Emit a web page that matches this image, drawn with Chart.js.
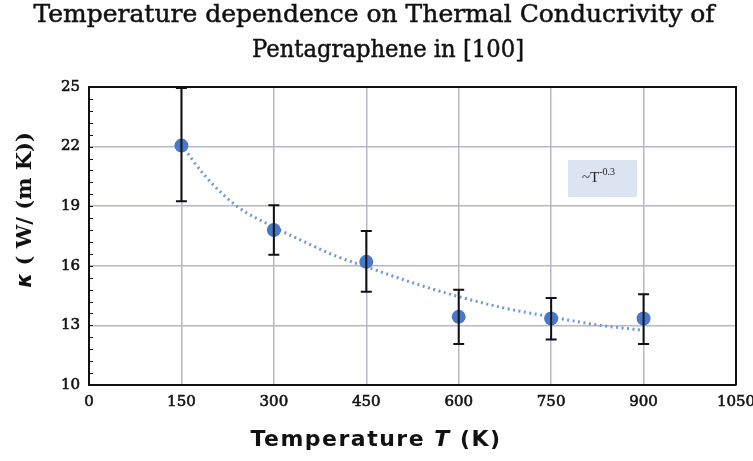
<!DOCTYPE html>
<html><head><meta charset="utf-8">
<script src="https://cdn.jsdelivr.net/npm/chart.js@4.4.1/dist/chart.umd.min.js"></script>
<style>html,body{margin:0;padding:0;background:#fff;}canvas{display:block;}</style>
</head><body>
<canvas id="c" width="753" height="461"></canvas>
<script>
// Data
const temperatures = [150, 300, 450, 600, 750, 900];
const kappa = [22.05, 17.8, 16.2, 13.43, 13.35, 13.35];
const kappaLow = [19.25, 16.55, 14.7, 12.07, 12.29, 12.07];
const kappaHigh = [24.95, 19.05, 17.75, 14.8, 14.38, 14.57];
const trendT = [150, 185, 240, 300, 350, 400, 450, 535, 600, 670, 750, 830, 900];
const trendK = [22.1, 20.65, 19.0, 17.95, 17.2, 16.5, 15.95, 15.05, 14.45, 13.9, 13.43, 13.0, 12.75];
const xTicks = [0, 150, 300, 450, 600, 750, 900, 1050];
const yTicks = [10, 13, 16, 19, 22, 25];

const blue = '#4a78c8';
const gridCol = '#b7b7c6';

function strokeFill(ctx, text, x, y, maxW) {
  if (maxW) { ctx.fillText(text, x, y, maxW); ctx.strokeText(text, x, y, maxW); }
  else { ctx.fillText(text, x, y); ctx.strokeText(text, x, y); }
}

const overlay = {
  id: 'overlay',
  afterDatasetsDraw(chart) {
    const ctx = chart.ctx, xs = chart.scales.x, ys = chart.scales.y;
    ctx.save();
    ctx.strokeStyle = '#111';
    ctx.lineWidth = 2;
    temperatures.forEach((t, i) => {
      const x = xs.getPixelForValue(t);
      const y1 = ys.getPixelForValue(kappaLow[i]);
      const y2 = ys.getPixelForValue(kappaHigh[i]);
      ctx.beginPath();
      ctx.moveTo(x, y1); ctx.lineTo(x, y2);
      ctx.moveTo(x - 5.5, y1); ctx.lineTo(x + 5.5, y1);
      ctx.moveTo(x - 5.5, y2); ctx.lineTo(x + 5.5, y2);
      ctx.stroke();
    });
    ctx.restore();
  },
  afterDraw(chart) {
    const ctx = chart.ctx, ys = chart.scales.y, a = chart.chartArea;
    ctx.save();
    ctx.strokeStyle = '#111';
    ctx.lineWidth = 2;
    ctx.beginPath();
    ctx.moveTo(a.left, a.top); ctx.lineTo(a.right, a.top); ctx.lineTo(a.right, a.bottom);
    ctx.stroke();
    ctx.lineWidth = 1;
    for (let v = 10; v <= 25.001; v += 0.6) {
      const y = Math.round(ys.getPixelForValue(v)) + 0.5;
      ctx.beginPath(); ctx.moveTo(a.left, y); ctx.lineTo(a.left + 4, y); ctx.stroke();
    }
    // annotation box
    ctx.fillStyle = '#dce4f1';
    ctx.fillRect(568, 160, 69, 37);
    ctx.fillStyle = '#222';
    ctx.textBaseline = 'alphabetic';
    ctx.textAlign = 'left';
    ctx.font = '15px "Liberation Serif"';
    ctx.fillText('~T', 582, 182);
    const w = ctx.measureText('~T').width;
    ctx.font = '10px "Liberation Serif"';
    ctx.fillText('-0.3', 582 + w, 175);
    // title
    ctx.fillStyle = '#111';
    ctx.strokeStyle = '#111';
    ctx.lineWidth = 0.5;
    ctx.textAlign = 'center';
    ctx.textBaseline = 'middle';
    ctx.font = '25px "DejaVu Serif"';
    strokeFill(ctx, 'Temperature dependence on Thermal Conducrivity of', 374, 15, 681);
    strokeFill(ctx, 'Pentagraphene in [100]', 388, 50, 272);
    // x title
    ctx.textAlign = 'left';
    ctx.letterSpacing = '1.5px';
    const fN = 'bold 22px "DejaVu Sans"', fI = 'italic bold 22px "DejaVu Sans"';
    const p1 = 'Temperature ', p2 = 'T', p3 = ' (K)';
    ctx.font = fN;
    const w1 = ctx.measureText(p1).width, w3 = ctx.measureText(p3).width;
    ctx.font = fI;
    const w2 = ctx.measureText(p2).width;
    let sx = 376 - (w1 + w2 + w3) / 2;
    ctx.font = fN; ctx.fillText(p1, sx, 440);
    ctx.font = fI; ctx.fillText(p2, sx + w1, 440);
    ctx.font = fN; ctx.fillText(p3, sx + w1 + w2, 440);
    ctx.letterSpacing = '0px';
    // y title
    ctx.translate(26, 210);
    ctx.rotate(-Math.PI / 2);
    const gI = 'italic bold 21px "DejaVu Sans"', gN = 'bold 21px "DejaVu Serif"';
    const q1 = 'κ', q2 = ' ( W/ (m K))';
    ctx.font = gI;
    const wq1 = ctx.measureText(q1).width;
    ctx.font = gN;
    const wq2 = ctx.measureText(q2).width;
    let sy = -(wq1 + wq2) / 2;
    ctx.font = gI; ctx.fillText(q1, sy, 0);
    ctx.font = gN; ctx.fillText(q2, sy + wq1, 0);
    ctx.restore();
  }
};

new Chart(document.getElementById('c'), {
  type: 'scatter',
  data: {
    datasets: [
      {
        label: 'trend',
        data: trendT.map((t, i) => ({x: t, y: trendK[i]})),
        showLine: true,
        borderColor: '#6f98dc',
        borderWidth: 3,
        borderDash: [2, 3.5],
        pointRadius: 0,
        cubicInterpolationMode: 'monotone',
        order: 2
      },
      {
        label: 'kappa',
        data: temperatures.map((t, i) => ({x: t, y: kappa[i]})),
        showLine: false,
        pointRadius: 7,
        pointBackgroundColor: blue,
        pointBorderColor: blue,
        pointBorderWidth: 0,
        order: 1
      }
    ]
  },
  options: {
    responsive: false,
    animation: false,
    devicePixelRatio: 1,
    layout: { padding: { top: 87, right: 17, left: 0, bottom: 0 } },
    plugins: { legend: { display: false }, tooltip: { enabled: false }, title: { display: false } },
    scales: {
      x: {
        type: 'linear', min: 0, max: 1050,
        afterBuildTicks: s => { s.ticks = xTicks.map(v => ({value: v})); },
        afterFit: s => { s.height = 461 - 385; s.paddingLeft = 0; s.paddingRight = 0; },
        grid: { color: gridCol, lineWidth: 1.5, drawTicks: false },
        border: { color: '#111', width: 2 },
        ticks: { padding: 8, color: '#111', textStrokeColor: '#111', textStrokeWidth: 0.6,
                 font: { family: '"DejaVu Serif"', size: 15 }, callback: v => String(v) }
      },
      y: {
        type: 'linear', min: 10, max: 25,
        afterBuildTicks: s => { s.ticks = yTicks.map(v => ({value: v})); },
        afterFit: s => { s.width = 89; s.paddingTop = 0; s.paddingBottom = 0; },
        grid: { color: gridCol, lineWidth: 1.5, drawTicks: false },
        border: { color: '#111', width: 2 },
        ticks: { padding: 9, color: '#111', textStrokeColor: '#111', textStrokeWidth: 0.6,
                 font: { family: '"DejaVu Serif"', size: 15 }, callback: v => String(v) }
      }
    }
  },
  plugins: [overlay]
});
</script>
</body></html>
